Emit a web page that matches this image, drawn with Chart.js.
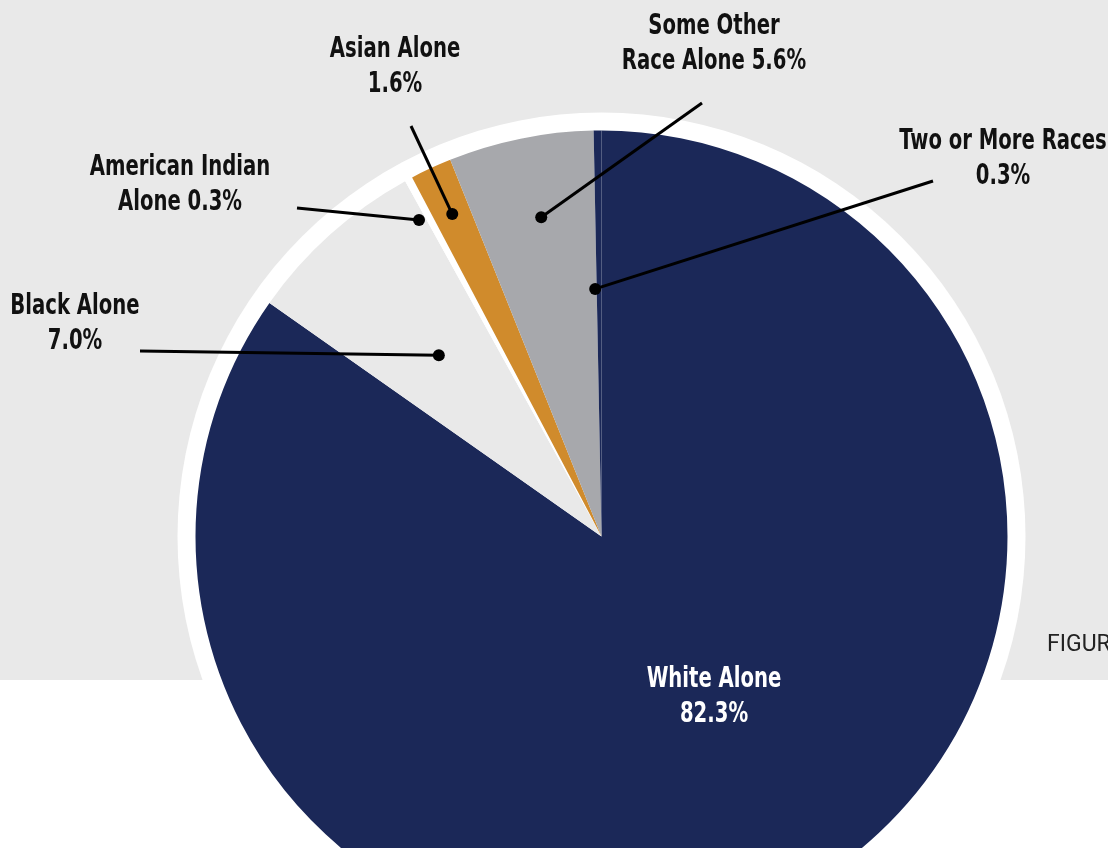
<!DOCTYPE html>
<html>
<head>
<meta charset="utf-8">
<script src="https://cdn.jsdelivr.net/npm/chart.js@4.4.0/dist/chart.umd.min.js"></script>
<style>
  html, body { margin: 0; padding: 0; background: #fff; overflow: hidden; }
</style>
</head>
<body>
<canvas id="raceChart" width="1108" height="848"></canvas>
<script>
// race shares (percent of population)
const categories = ["White Alone", "Black Alone", "American Indian Alone", "Asian Alone", "Some Other Race Alone", "Two or More Races"];
const shares = [82.3, 7.0, 0.3, 1.6, 5.6, 0.3];
const sliceColors = ["#1b2858", "#e9e9e9", "#ffffff", "#d08b2c", "#a7a8ac", "#1b2858"];

// label text, {v} is replaced by the share
const labelLines = [
  ["White Alone", "{v}%"],
  ["Black Alone", "{v}%"],
  ["American Indian", "Alone {v}%"],
  ["Asian Alone", "{v}%"],
  ["Some Other", "Race Alone {v}%"],
  ["Two or More Races", "{v}%"]
];

// where each label sits, where its leader starts, and how far out the dot is
const labelPlace = [
  { x: 714, y: 680, color: "#ffffff" },
  { x: 75, y: 307, from: [140, 351], r: 0.60, da: 0 },
  { x: 180, y: 168, from: [297, 208], r: 0.90, da: -1.6 },
  { x: 395, y: 50, from: [411, 126], r: 0.875, da: 0 },
  { x: 714, y: 27, from: [702, 103], r: 0.80, da: 0.8 },
  { x: 1003, y: 142, from: [933, 181], r: 0.61, da: -0.9 }
];

const bgGray = "#e9e9e9";
const ringWidth = 18;
const labelFont = 'bold 28px "Liberation Sans Narrow", "DejaVu Sans Condensed", sans-serif';
const labelSqueeze = 0.78;

const backdrop = {
  id: "backdrop",
  beforeDraw(chart) {
    const ctx = chart.ctx;
    ctx.save();
    ctx.fillStyle = "#ffffff";
    ctx.fillRect(0, 0, chart.width, chart.height);
    ctx.fillStyle = bgGray;
    ctx.fillRect(0, 0, chart.width, 680);
    ctx.fillStyle = "#222";
    ctx.font = '23px Roboto, "Liberation Sans", sans-serif';
    ctx.textBaseline = "alphabetic";
    ctx.fillText("FIGURE", 1047, 651);
    ctx.restore();
  },
  beforeDatasetsDraw(chart) {
    const arc = chart.getDatasetMeta(0).data[0];
    const ctx = chart.ctx;
    ctx.save();
    ctx.fillStyle = "#ffffff";
    ctx.beginPath();
    ctx.arc(arc.x, arc.y, arc.outerRadius + ringWidth, 0, Math.PI * 2);
    ctx.fill();
    ctx.restore();
  }
};

const sliceLabels = {
  id: "sliceLabels",
  afterDatasetsDraw(chart) {
    const ctx = chart.ctx;
    const arcs = chart.getDatasetMeta(0).data;
    ctx.save();
    // leaders
    arcs.forEach((arc, i) => {
      const p = labelPlace[i];
      if (!p.from) return;
      const a = (arc.startAngle + arc.endAngle) / 2 + p.da * Math.PI / 180;
      const rr = arc.outerRadius * p.r;
      const dx = arc.x + Math.cos(a) * rr;
      const dy = arc.y + Math.sin(a) * rr;
      ctx.strokeStyle = "#000";
      ctx.lineWidth = 3;
      ctx.beginPath();
      ctx.moveTo(p.from[0], p.from[1]);
      ctx.lineTo(dx, dy);
      ctx.stroke();
      ctx.fillStyle = "#000";
      ctx.beginPath();
      ctx.arc(dx, dy, 6, 0, Math.PI * 2);
      ctx.fill();
    });
    // text
    ctx.font = labelFont;
    ctx.textAlign = "center";
    ctx.textBaseline = "middle";
    arcs.forEach((arc, i) => {
      const p = labelPlace[i];
      ctx.save();
      ctx.translate(p.x, p.y);
      ctx.scale(labelSqueeze, 1);
      ctx.fillStyle = p.color || "#111";
      labelLines[i].forEach((t, k) => {
        ctx.fillText(t.replace("{v}", shares[i].toFixed(1)), 0, k * 35);
      });
      ctx.restore();
    });
    ctx.restore();
  }
};

new Chart(document.getElementById("raceChart"), {
  type: "pie",
  data: {
    labels: categories,
    datasets: [{
      data: shares,
      backgroundColor: sliceColors,
      borderWidth: 0,
      radius: 406,
      clip: false
    }]
  },
  options: {
    responsive: false,
    animation: false,
    layout: { padding: { left: 95, top: 225 } },
    plugins: {
      legend: { display: false },
      tooltip: { enabled: false }
    }
  },
  plugins: [backdrop, sliceLabels]
});
</script>
</body>
</html>
